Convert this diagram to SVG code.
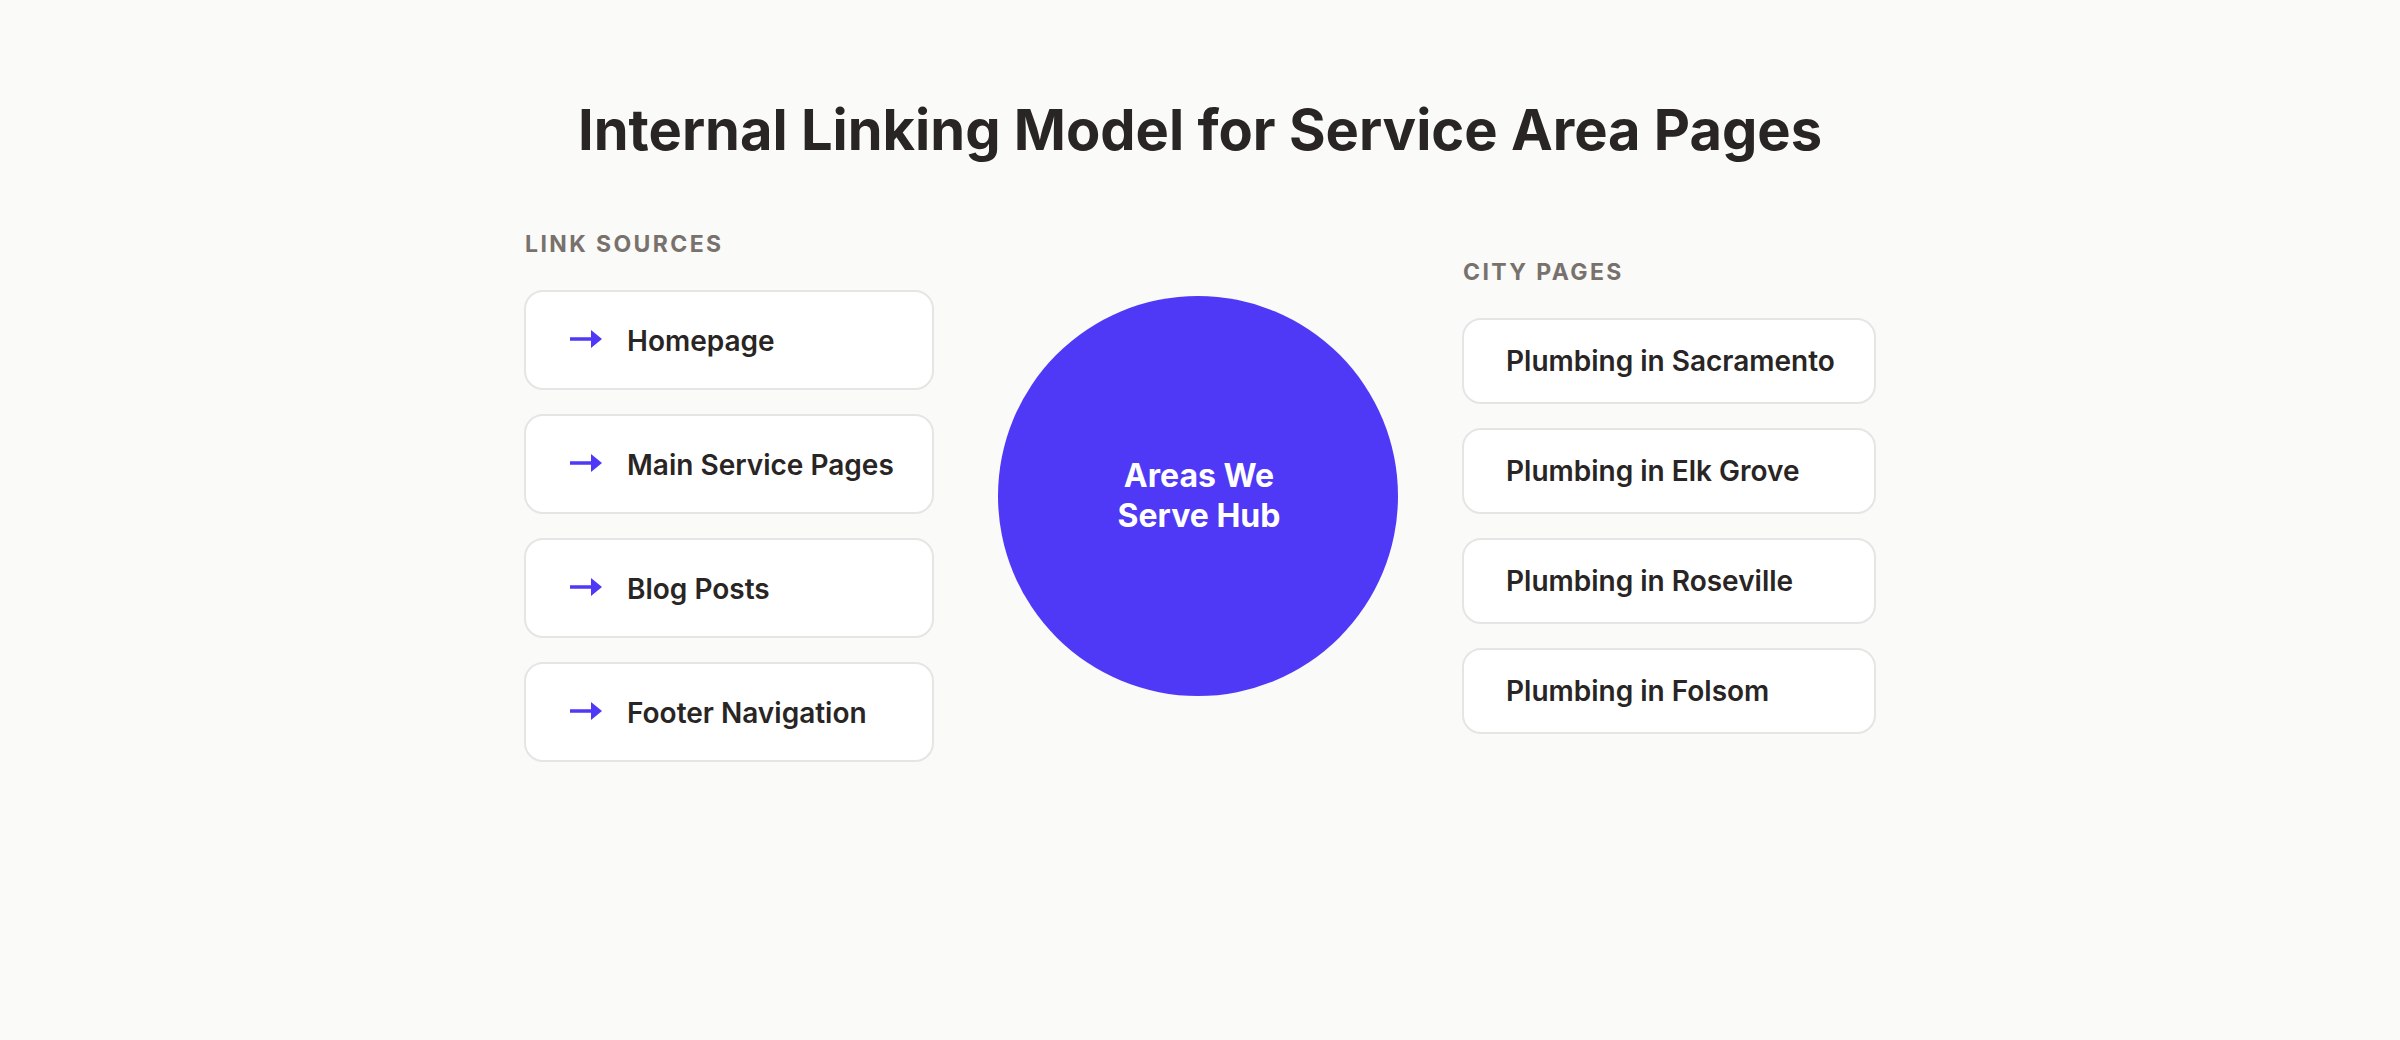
<svg xmlns="http://www.w3.org/2000/svg" width="2400" height="1040" viewBox="0 0 2400 1040">
<style>
.title{font-family:Inter,"Liberation Sans",sans-serif;font-weight:700;font-size:56px;fill:#292524}
.sec{font-family:Inter,"Liberation Sans",sans-serif;font-weight:700;font-size:23px;fill:#78716c;letter-spacing:2.4px}
.box{fill:#ffffff;stroke:#e7e5e4;stroke-width:2}
.lbl{font-family:Inter,"Liberation Sans",sans-serif;font-weight:600;font-size:28px;fill:#292524}
.hub{fill:#4f39f6}
.hubt{font-family:Inter,"Liberation Sans",sans-serif;font-weight:700;font-size:32px;fill:#ffffff}
.arr{fill:#4f39f6}
</style>
<defs>
<path id="arrow" d="M0 -1.8 H21 L21 -9 L32 0 L21 9 V1.8 H0 Z"/>
</defs>
<rect width="2400" height="1040" fill="#fafaf9"/>
<text class="title" x="1200" y="150" text-anchor="middle">Internal Linking Model for Service Area Pages</text>
<text class="sec" x="525" y="252">LINK SOURCES</text>
<text class="sec" x="1463" y="280">CITY PAGES</text>
<g id="src-homepage">
<rect class="box" x="525" y="291" width="408" height="98" rx="18"/>
<text class="lbl" x="627" y="351">Homepage</text>
</g>
<g id="src-main-service">
<rect class="box" x="525" y="415" width="408" height="98" rx="18"/>
<text class="lbl" x="627" y="475">Main Service Pages</text>
</g>
<g id="src-blog">
<rect class="box" x="525" y="539" width="408" height="98" rx="18"/>
<text class="lbl" x="627" y="599">Blog Posts</text>
</g>
<g id="src-footer">
<rect class="box" x="525" y="663" width="408" height="98" rx="18"/>
<text class="lbl" x="627" y="723">Footer Navigation</text>
</g>
<g id="hub">
<circle class="hub" cx="1198" cy="496" r="200"/>
<text class="hubt" x="1199" y="487" text-anchor="middle">Areas We</text>
<text class="hubt" x="1199" y="527" text-anchor="middle">Serve Hub</text>
</g>
<g id="city-sacramento">
<rect class="box" x="1463" y="319" width="412" height="84" rx="18"/>
<text class="lbl" x="1506" y="371">Plumbing in Sacramento</text>
</g>
<g id="city-elk-grove">
<rect class="box" x="1463" y="429" width="412" height="84" rx="18"/>
<text class="lbl" x="1506" y="481">Plumbing in Elk Grove</text>
</g>
<g id="city-roseville">
<rect class="box" x="1463" y="539" width="412" height="84" rx="18"/>
<text class="lbl" x="1506" y="591">Plumbing in Roseville</text>
</g>
<g id="city-folsom">
<rect class="box" x="1463" y="649" width="412" height="84" rx="18"/>
<text class="lbl" x="1506" y="701">Plumbing in Folsom</text>
</g>
<g id="connectors">
<use href="#arrow" class="arr" x="570" y="339"/>
<use href="#arrow" class="arr" x="570" y="463"/>
<use href="#arrow" class="arr" x="570" y="587"/>
<use href="#arrow" class="arr" x="570" y="711"/>
</g>
</svg>
